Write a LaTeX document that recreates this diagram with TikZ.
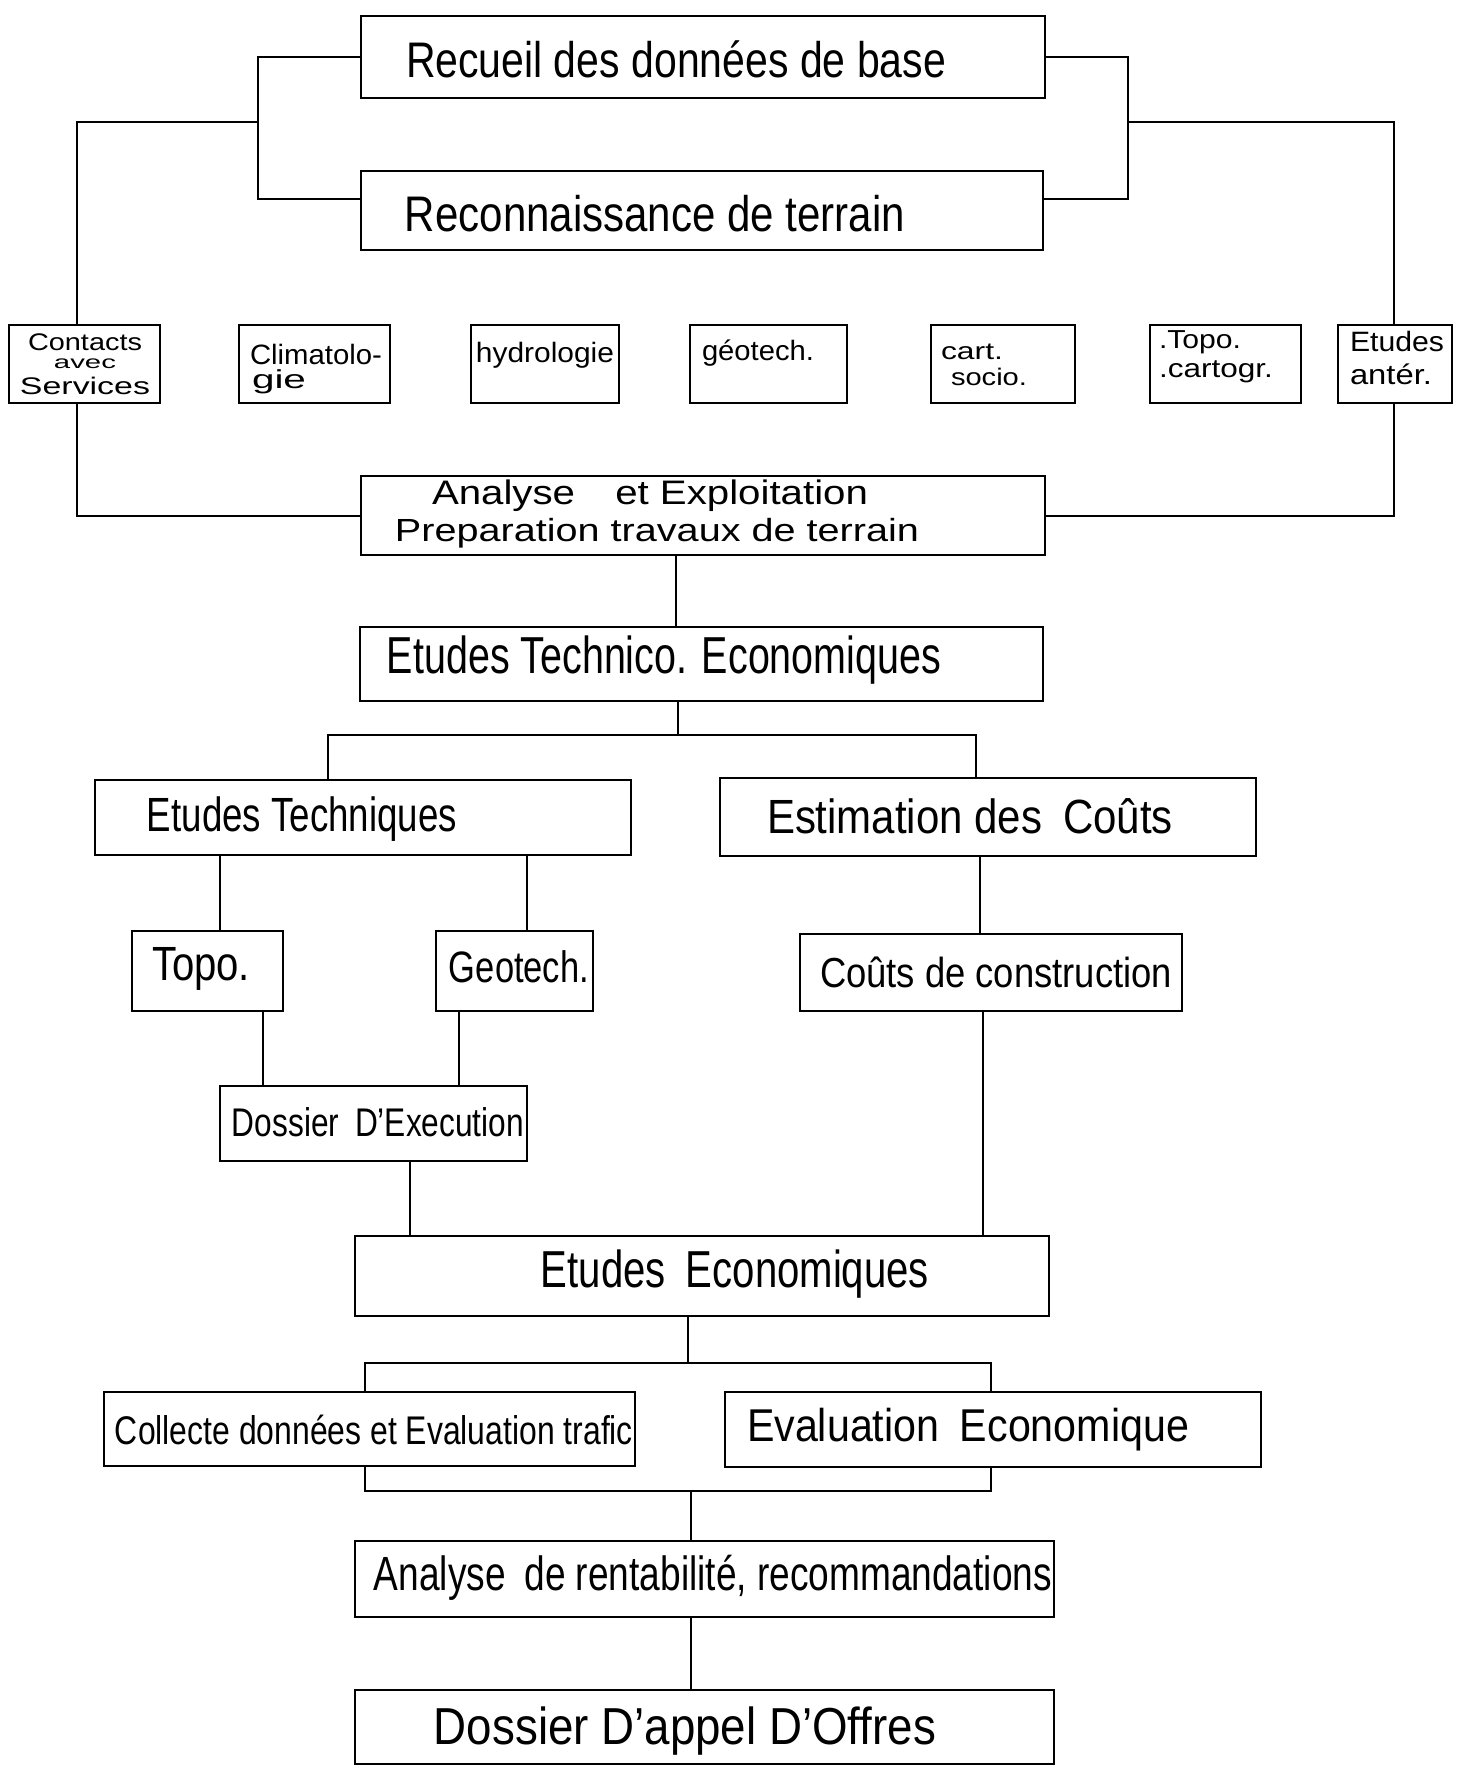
\documentclass[tikz,border=0pt]{standalone}
\usepackage{fontspec}
\setmainfont{Liberation Sans}
\usepackage{graphicx}
\newcommand\hw[2]{\resizebox{#1}{\height}{#2}}
\tikzset{
 box/.style={draw, line width=1.3pt, inner sep=0pt, outer sep=0pt},
 conn/.style={line width=1pt},
 txt/.style={inner sep=0pt, outer sep=0pt},
 sm/.style={txt, font=\fontsize{14}{14}\selectfont},
 smw/.style={sm, anchor=west},
}
\begin{document}
\begin{tikzpicture}[x=0.5pt,y=-0.5pt]
\useasboundingbox (0,0) rectangle (1468,1768);
\fill[white] (0,0) rectangle (1468,1768);

% ---------- boxes ----------
\node[box, minimum width=342pt, minimum height=41pt] (b1) at (703,57) {};
\node[box, minimum width=341pt, minimum height=39.5pt] (b2) at (702,210.5) {};
\node[box, minimum width=75.5pt, minimum height=39pt] (s1) at (84.5,364) {};
\node[box, minimum width=75.5pt, minimum height=39pt] (s2) at (314.5,364) {};
\node[box, minimum width=74pt, minimum height=39pt] (s3) at (545,364) {};
\node[box, minimum width=78.5pt, minimum height=39pt] (s4) at (768.5,364) {};
\node[box, minimum width=72pt, minimum height=39pt] (s5) at (1003,364) {};
\node[box, minimum width=75.5pt, minimum height=39pt] (s6) at (1225.5,364) {};
\node[box, minimum width=57pt, minimum height=39pt] (s7) at (1395,364) {};
\node[box, minimum width=342pt, minimum height=39.5pt] (b3) at (703,515.5) {};
\node[box, minimum width=341.5pt, minimum height=37pt] (b4) at (701.5,664) {};
\node[box, minimum width=268pt, minimum height=37.5pt] (b5) at (363,817.5) {};
\node[box, minimum width=268pt, minimum height=39pt] (b6) at (988,817) {};
\node[box, minimum width=75.5pt, minimum height=40pt] (b7) at (207.5,971) {};
\node[box, minimum width=78.5pt, minimum height=40pt] (b8) at (514.5,971) {};
\node[box, minimum width=191pt, minimum height=38.5pt] (b9) at (991,972.5) {};
\node[box, minimum width=153.5pt, minimum height=37.5pt] (b10) at (373.5,1123.5) {};
\node[box, minimum width=347pt, minimum height=40pt] (b11) at (702,1276) {};
\node[box, minimum width=265.5pt, minimum height=37pt] (b12) at (369.5,1429) {};
\node[box, minimum width=268pt, minimum height=37.5pt] (b13) at (993,1429.5) {};
\node[box, minimum width=349.5pt, minimum height=38pt] (b14) at (704.5,1579) {};
\node[box, minimum width=349.5pt, minimum height=37pt] (b15) at (704.5,1727) {};

% ---------- texts ----------
\node[txt, font=\fontsize{25}{30}\selectfont] (t1) at (676,59) {\hw{270pt}{Recueil des données de base}};
\node[txt, font=\fontsize{25}{30}\selectfont] (t2) at (655,214) {\hw{250pt}{Reconnaissance de terrain}};
\node[txt, font=\fontsize{12}{12}\selectfont] (ts1a) at (85,342) {\hw{57pt}{Contacts}};
\node[txt, font=\fontsize{9}{9}\selectfont] (ts1b) at (85,364) {\hw{31pt}{avec}};
\node[txt, font=\fontsize{12}{12}\selectfont] (ts1c) at (85,386) {\hw{65pt}{Services}};
\node[smw] (ts2a) at (250,354) {\hw{66pt}{Climatolo-}};
\node[smw, font=\fontsize{13}{13}\selectfont] (ts2b) at (252,382) {\hw{27pt}{gie}};
\node[sm] (ts3) at (545,355) {\hw{69pt}{hydrologie}};
\node[sm] (ts4) at (758,353) {\hw{56pt}{géotech.}};
\node[smw, font=\fontsize{12}{12}\selectfont] (ts5a) at (941,352) {\hw{31pt}{cart.}};
\node[smw, font=\fontsize{12}{12}\selectfont] (ts5b) at (951,377) {\hw{38pt}{socio.}};
\node[smw, font=\fontsize{13}{13}\selectfont] (ts6a) at (1159,342) {\hw{41pt}{.Topo.}};
\node[smw, font=\fontsize{13}{13}\selectfont] (ts6b) at (1159,372) {\hw{57pt}{.cartogr.}};
\node[smw] (ts7a) at (1350,341) {\hw{47pt}{Etudes}};
\node[smw] (ts7b) at (1350,374) {\hw{41pt}{antér.}};
\node[txt, font=\fontsize{17}{20}\selectfont] (t3a) at (650,496) {\hw{218pt}{Analyse\quad et Exploitation}};
\node[txt, font=\fontsize{16}{20}\selectfont] (t3b) at (657,533) {\hw{262pt}{Preparation travaux de terrain}};
\node[txt, font=\fontsize{26}{30}\selectfont] (t4) at (664,660) {\hw{277pt}{Etudes Technico. Economiques}};
\node[txt, font=\fontsize{24}{28}\selectfont] (t5) at (302,819) {\hw{155pt}{Etudes Techniques}};
\node[txt, font=\fontsize{24}{28}\selectfont] (t6) at (970,816) {\hw{203pt}{Estimation des\enspace Coûts}};
\node[txt, font=\fontsize{24}{28}\selectfont] (t7) at (201,969) {\hw{49pt}{Topo.}};
\node[txt, font=\fontsize{22}{26}\selectfont] (t8) at (519,967) {\hw{70pt}{Geotech.}};
\node[txt, font=\fontsize{21}{25}\selectfont] (t9) at (996,972) {\hw{176pt}{Coûts de construction}};
\node[txt, font=\fontsize{20}{24}\selectfont] (t10) at (378,1122) {\hw{146pt}{Dossier\enspace D'Execution}};
\node[txt, font=\fontsize{26}{30}\selectfont] (t11) at (735,1274) {\hw{194pt}{Etudes\enspace Economiques}};
\node[txt, font=\fontsize{20}{24}\selectfont] (t12) at (374,1430) {\hw{259pt}{Collecte données et Evaluation trafic}};
\node[txt, font=\fontsize{23}{27}\selectfont] (t13) at (968,1430) {\hw{221pt}{Evaluation\enspace Economique}};
\node[txt, font=\fontsize{24}{28}\selectfont] (t14) at (713,1578) {\hw{339pt}{Analyse\enspace de rentabilité, recommandations}};
\node[txt, font=\fontsize{26}{30}\selectfont] (t15) at (685,1731) {\hw{251pt}{Dossier D'appel D'Offres}};

% ---------- connectors ----------
\coordinate (xl) at (258,0);
\coordinate (xr) at (1128,0);
\coordinate (b2l) at ([yshift=6pt]b2.west);
\coordinate (b2r) at ([yshift=6pt]b2.east);
\draw[conn] (b1.west) -- (b1.west -| xl) -- (b2l -| xl) -- (b2l);
\draw[conn] (b1.east) -- (b1.east -| xr) -- (b2r -| xr) -- (b2r);
\coordinate (lo) at (77,122);
\coordinate (ro) at (1394,122);
\draw[conn] (lo -| xl) -- (lo) -- (lo |- s1.north);
\draw[conn] (lo |- s1.south) -- (lo |- b3.west) -- (b3.west);
\draw[conn] (ro -| xr) -- (ro) -- (ro |- s7.north);
\draw[conn] (ro |- s7.south) -- (ro |- b3.east) -- (b3.east);

\coordinate (v1) at (676,0);
\draw[conn] (b3.south -| v1) -- (b4.north -| v1);
\coordinate (h1) at (678,735);
\coordinate (h1l) at (328,735);
\coordinate (h1r) at (976,735);
\draw[conn] (b4.south -| h1) -- (h1);
\draw[conn] (b5.north -| h1l) -- (h1l) -- (h1r) -- (b6.north -| h1r);

\coordinate (v2) at (220,0);
\coordinate (v3) at (527,0);
\coordinate (v4) at (980,0);
\draw[conn] (b5.south -| v2) -- (b7.north -| v2);
\draw[conn] (b5.south -| v3) -- (b8.north -| v3);
\draw[conn] (b6.south -| v4) -- (b9.north -| v4);
\coordinate (v5) at (263,0);
\coordinate (v6) at (459,0);
\draw[conn] (b7.south -| v5) -- (b10.north -| v5);
\draw[conn] (b8.south -| v6) -- (b10.north -| v6);
\coordinate (v7) at (410,0);
\coordinate (v8) at (983,0);
\draw[conn] (b10.south -| v7) -- (b11.north -| v7);
\draw[conn] (b9.south -| v8) -- (b11.north -| v8);

\coordinate (h2) at (688,1363);
\coordinate (h2l) at (365,1363);
\coordinate (h2r) at (991,1363);
\draw[conn] (b11.south -| h2) -- (h2);
\draw[conn] (b12.north -| h2l) -- (h2l) -- (h2r) -- (b13.north -| h2r);
\coordinate (h3) at (691,1491);
\coordinate (h3l) at (365,1491);
\coordinate (h3r) at (991,1491);
\draw[conn] (b12.south -| h3l) -- (h3l) -- (h3r) -- (b13.south -| h3r);
\draw[conn] (h3) -- (b14.north -| h3);
\draw[conn] (b14.south -| h3) -- (b15.north -| h3);
\end{tikzpicture}
\end{document}
